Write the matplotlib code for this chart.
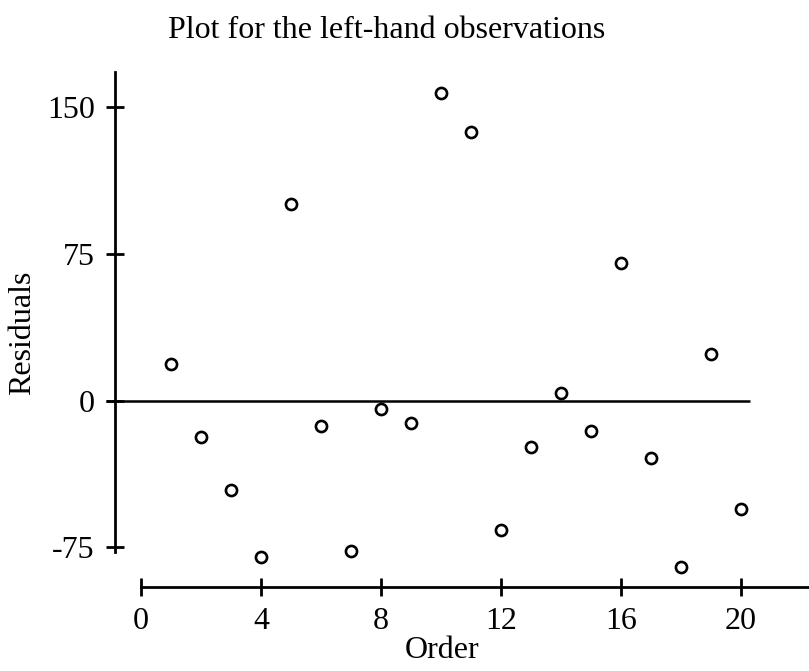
import matplotlib
matplotlib.use("Agg")
import matplotlib.pyplot as plt

# Residuals by observation order
order = list(range(1, 21))
residuals = [18.5, -18.5, -45.8, -79.9, 100.3, -12.9, -76.8, -4.5, -11.7, 157.4,
             137.3, -66.2, -23.9, 3.7, -15.6, 70.4, -29.2, -85.1, 23.8, -55.5]
x_ticks = [0, 4, 8, 12, 16, 20]
y_ticks = [-75, 0, 75, 150]

plt.rcParams["font.family"] = ["Liberation Serif", "DejaVu Serif"]

W, H, DPI = 809, 671, 100
fig = plt.figure(figsize=(W / DPI, H / DPI), dpi=DPI)
ax = fig.add_axes([0, 0, 1, 1])

# data <-> pixel mapping: x 30 px per unit, origin at px 141; y 1.956 px per unit, zero at px 400.5
xs, x0 = 30.0, 141.0
ys, y0 = 1.956, 400.5
ax.set_xlim(-x0 / xs, (W - x0) / xs)
ax.set_ylim((y0 - H) / ys, y0 / ys)

for s in ("top", "right"):
    ax.spines[s].set_visible(False)
ax.patch.set_visible(False)

yaxis_x = (115 - x0) / xs
xaxis_y = (y0 - 587) / ys
ax.spines["left"].set_position(("data", yaxis_x))
ax.spines["left"].set_bounds((y0 - 552) / ys, (y0 - 72) / ys)
ax.spines["bottom"].set_position(("data", xaxis_y))
ax.spines["bottom"].set_bounds(0, (W - x0) / xs)
for s in ("left", "bottom"):
    ax.spines[s].set_linewidth(2.0)

ax.set_xticks(x_ticks)
ax.set_yticks(y_ticks)
ax.set_yticklabels([str(v) for v in y_ticks])
ax.tick_params(axis="both", direction="inout", length=13, width=2.0,
               labelsize=23, pad=8)

# zero reference line
ax.plot([(106 - x0) / xs, (750 - x0) / xs], [0, 0], color="black", lw=1.8,
        solid_capstyle="butt")

ax.plot(order, residuals, linestyle="none", marker="o", markersize=8,
        markerfacecolor="white", markeredgecolor="black", markeredgewidth=1.9)

fig.text(387 / W, 1 - 30 / H, "Plot for the left-hand observations",
         ha="center", va="center", fontsize=23)
fig.text(442 / W, 1 - 651 / H, "Order", ha="center", va="center", fontsize=23)
fig.text(23 / W, 1 - 333 / H, "Residuals", ha="center", va="center",
         rotation=90, fontsize=23)

fig.savefig("out.png", dpi=DPI)
